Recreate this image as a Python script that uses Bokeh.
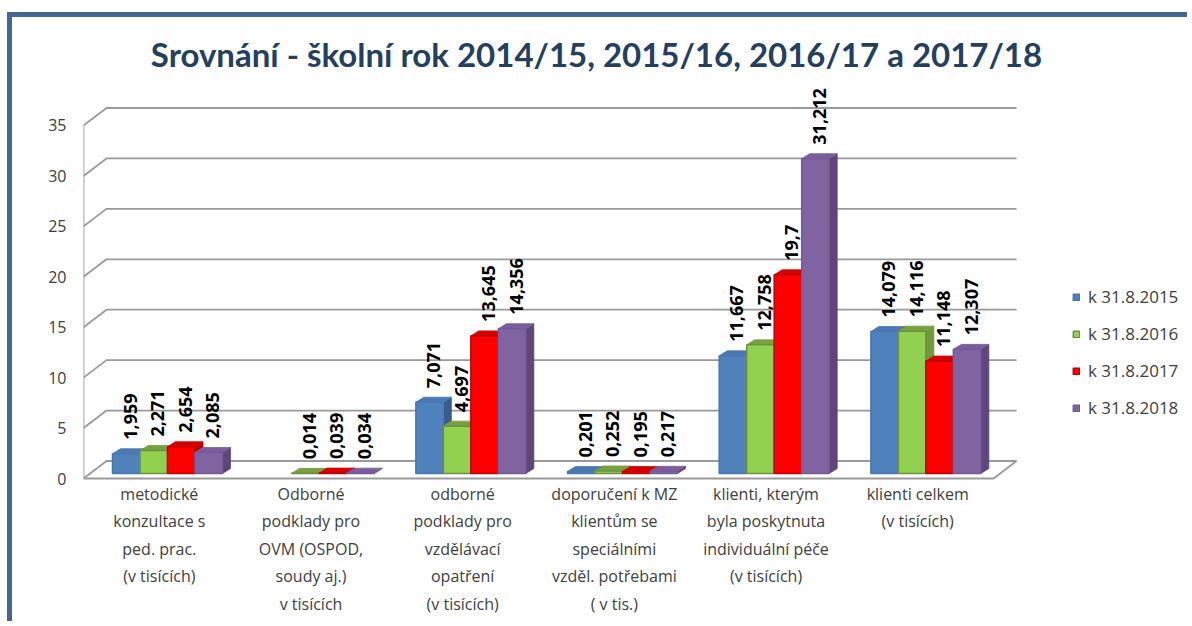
import math
from bokeh.plotting import figure
from bokeh.models import Range1d, FixedTicker, Label, Legend, LegendItem
from bokeh.core.properties import value
from bokeh.embed import file_html
from bokeh.resources import INLINE

# ---------------- data ----------------
categories = [
    "metodické\nkonzultace s\nped. prac.\n(v tisících)",
    "Odborné\npodklady pro\nOVM (OSPOD,\nsoudy aj.)\nv tisících",
    "odborné\npodklady pro\nvzdělávací\nopatření\n(v tisících)",
    "doporučení k MZ\nklientům se\nspeciálními\nvzděl. potřebami\n( v tis.)",
    "klienti, kterým\nbyla poskytnuta\nindividuální péče\n(v tisících)",
    "klienti celkem\n(v tisících)",
]
series_names = ["k 31.8.2015", "k 31.8.2016", "k 31.8.2017", "k 31.8.2018"]
v2015 = [1.959, None, 7.071, 0.201, 11.667, 14.079]
v2016 = [2.271, 0.014, 4.697, 0.252, 12.758, 14.116]
v2017 = [2.654, 0.039, 13.645, 0.195, 19.7, 11.148]
v2018 = [2.085, 0.034, 14.356, 0.217, 31.212, 12.307]
y_ticks = [0, 5, 10, 15, 20, 25, 30, 35]
title_text = "Srovnání - školní rok  2014/15, 2015/16, 2016/17 a 2017/18"

series_values = [v2015, v2016, v2017, v2018]

# ---------------- styling / geometry ----------------
OFF_X, OFF_Y = 12, 17        # canvas origin on the page (margin + frame border)
W, H = 1180, 609
FRAME_LEFT = 71              # canvas px
PX_X = 151.67                # px per category
PX_Y = 10.086                # px per value unit
ZERO_PAGE_Y = 478            # page y of value 0 (front)
Y0_CANVAS = ZERO_PAGE_Y - OFF_Y
ncat = len(categories)

def dx(px):
    return px / PX_X

def dy(px):
    return px / PX_Y

def fx(page_x):  # page x -> data x
    return (page_x - OFF_X - FRAME_LEFT) / PX_X

def fy(page_y):  # page y -> data y
    return (ZERO_PAGE_Y - page_y) / PX_Y

WDX, WDY = dx(23), dy(17.5)          # wall depth
BAR_OFF, BAR_W = dx(29), dx(27.5)
BAR_BASE = dy(5)
BDX, BDY = dx(8), dy(5)               # bar depth

styles = [
    dict(front="#4f81bd", side="#385d8a", top="#4a78b2", line="#4a78b2"),
    dict(front="#92d050", side="#6f9a3a", top="#77a040", line="#6e9040"),
    dict(front="#ff0000", side="#c00000", top="#d40000", line="#c00000"),
    dict(front="#8064a2", side="#5c467a", top="#7a5e9c", line="#76599a"),
]

p = figure(width=W, height=H, output_backend="svg", toolbar_location=None,
           x_axis_type=None,
           x_range=Range1d(0, (W - FRAME_LEFT) / PX_X),
           y_range=Range1d(-(H - Y0_CANVAS) / PX_Y, Y0_CANVAS / PX_Y),
           min_border=0, min_border_left=FRAME_LEFT,
           styles={"margin-left": "7px", "margin-top": "12px",
                   "border-left": "5px solid #44678f",
                   "border-top": "5px solid #44678f"})
p.outline_line_color = None
p.background_fill_color = "white"
p.border_fill_color = "white"
p.ygrid.visible = False

ax = p.yaxis[0]
ax.ticker = FixedTicker(ticks=y_ticks)
ax.axis_line_color = None
ax.major_tick_line_color = None
ax.minor_tick_line_color = None
ax.major_tick_out = 0
ax.major_tick_in = 0
ax.major_label_standoff = 17
ax.major_label_text_font = "Open Sans"
ax.major_label_text_font_size = "16px"
ax.major_label_text_color = "#404040"

# ---------------- 3D walls / gridlines ----------------
gxs, gys = [], []
for t in y_ticks:
    gxs.append([0, WDX, ncat + WDX])
    gys.append([t, t + WDY, t + WDY])
gxs.append([0, 0]); gys.append([0, y_ticks[-1]])
gxs.append([0, ncat, ncat + WDX]); gys.append([0, 0, WDY])
p.multi_line(gxs, gys, line_color="#9a9a9a", line_width=1.8)

# ---------------- bars ----------------
legend_items = []
for i, (vals, st, name) in enumerate(zip(series_values, styles, series_names)):
    xs_c, tops, side_x, side_y, top_x, top_y, lx, ly, lt = [], [], [], [], [], [], [], [], []
    for c, v in enumerate(vals):
        if v is None:
            continue
        x0 = c + BAR_OFF + i * BAR_W
        x1 = x0 + BAR_W
        y0 = BAR_BASE
        y1 = BAR_BASE + v
        xs_c.append((x0 + x1) / 2)
        tops.append(y1)
        side_x.append([x1, x1 + BDX, x1 + BDX, x1])
        side_y.append([y0, y0 + BDY, y1 + BDY, y1])
        top_x.append([x0, x0 + BDX, x1 + BDX, x1])
        top_y.append([y1, y1 + BDY, y1 + BDY, y1])
        lx.append((x0 + x1) / 2 + BDX / 2)
        ly.append(y1 + dy(14))
        lt.append(str(v).replace(".", ","))
    p.patches(side_x, side_y, fill_color=st["side"], line_color=st["side"], line_width=0.8)
    p.patches(top_x, top_y, fill_color=st["top"], line_color=st["top"], line_width=0.8)
    r = p.vbar(x=xs_c, width=BAR_W, bottom=BAR_BASE, top=tops,
               fill_color=st["front"], line_color=st["line"], line_width=1.5)
    legend_items.append(LegendItem(label=name, renderers=[r]))
    p.text(x=lx, y=ly, text=lt, angle=math.pi / 2,
           text_align="left", text_baseline="middle",
           text_font=value("Open Sans"), text_font_style="bold",
           text_font_size="18px", text_color="black")

# ---------------- category labels ----------------
p.text(x=[c + 0.5 for c in range(ncat)], y=[fy(482)] * ncat, text=categories,
       text_align="center", text_baseline="top",
       text_font=value("Open Sans"), text_font_size="16px",
       text_color="#404040", text_line_height=1.25)

# ---------------- title ----------------
p.add_layout(Label(x=fx(600), y=fy(53), text=title_text,
                   text_align="center", text_baseline="middle",
                   text_font="Lato", text_font_style="bold",
                   text_font_size="33px", text_color="#243f60"))

# ---------------- legend ----------------
legend = Legend(items=legend_items, location=(989, 207),
                orientation="vertical",
                glyph_width=8, glyph_height=8, label_height=20, spacing=14,
                label_standoff=8, padding=0, margin=0,
                label_text_font="Open Sans", label_text_font_size="17px",
                label_text_color="#404040",
                background_fill_alpha=0, border_line_color=None)
p.add_layout(legend)

open("out.html", "w").write(file_html(p, INLINE))
